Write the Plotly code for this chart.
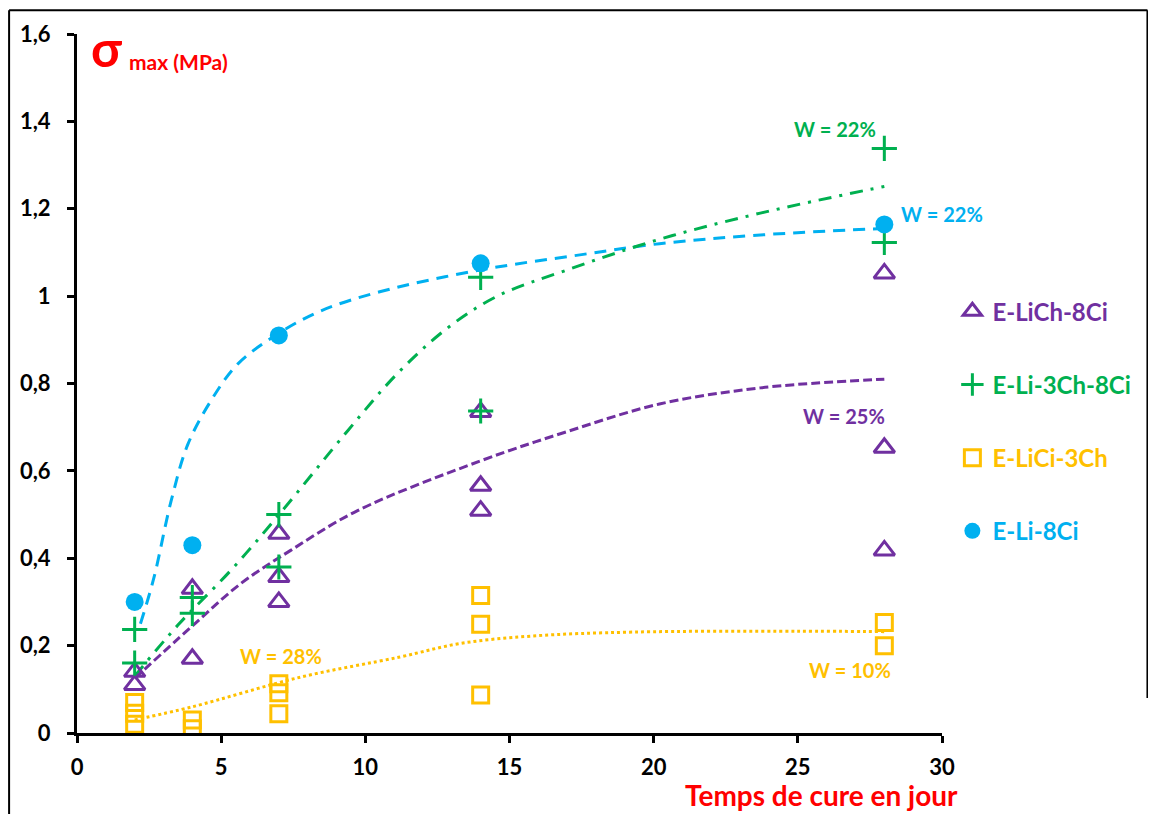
import plotly.graph_objects as go

# ---- data ----
days = [2, 4, 7, 14, 28]

# E-LiCh-8Ci (triangles)
lich_x = [2, 2, 4, 4, 7, 7, 7, 14, 14, 14, 28, 28, 28]
lich_y = [0.14, 0.11, 0.33, 0.17, 0.456, 0.357, 0.30, 0.735, 0.566, 0.509, 1.052, 0.653, 0.418]

# E-Li-3Ch-8Ci (plus)
li3ch_x = [2, 2, 4, 4, 7, 7, 14, 14, 28, 28]
li3ch_y = [0.237, 0.16, 0.31, 0.274, 0.50, 0.38, 1.043, 0.737, 1.338, 1.123]

# E-LiCi-3Ch (squares)
lici_x = [2, 2, 2, 4, 4, 7, 7, 7, 14, 14, 14, 28, 28]
lici_y = [0.07, 0.045, 0.02, 0.03, 0.01, 0.113, 0.092, 0.044, 0.315, 0.249, 0.087, 0.253, 0.20]

# E-Li-8Ci (circles)
li8_x = [2, 4, 7, 14, 28]
li8_y = [0.30, 0.43, 0.91, 1.075, 1.164]

# trend curves
tr_blue_x = [2.2, 2.67, 3.26, 3.84, 4.64, 5.58, 7.0, 8.45, 10.5, 14.0, 17.5, 20.2, 23.7, 28.0]
tr_blue_y = [0.25, 0.356, 0.53, 0.66, 0.76, 0.845, 0.915, 0.966, 1.01, 1.06, 1.095, 1.12, 1.14, 1.155]

tr_green_x = [2.0, 3.5, 5.33, 7.07, 9.39, 11.1, 12.85, 14.58, 17.0, 20.2, 23.7, 28.0]
tr_green_y = [0.13, 0.247, 0.372, 0.505, 0.692, 0.822, 0.927, 1.0, 1.06, 1.13, 1.19, 1.251]

tr_purple_x = [2.0, 3.95, 5.68, 7.41, 9.73, 14.0, 17.0, 20.2, 23.7, 28.0]
tr_purple_y = [0.125, 0.242, 0.342, 0.418, 0.509, 0.623, 0.69, 0.753, 0.79, 0.81]

tr_yellow_x = [2.0, 4.0, 7.76, 11.2, 13.3, 15.8, 19.3, 25.0, 28.0]
tr_yellow_y = [0.03, 0.06, 0.128, 0.174, 0.205, 0.222, 0.231, 0.233, 0.232]

x_ticks = [0, 5, 10, 15, 20, 25, 30]
y_ticks = [0, 0.2, 0.4, 0.6, 0.8, 1.0, 1.2, 1.4, 1.6]
y_ticktext = ["0", "0,2", "0,4", "0,6", "0,8", "1", "1,2", "1,4", "1,6"]

PURPLE = "#7030A0"
GREEN = "#00B050"
YELLOW = "#FFC000"
BLUE = "#00B0F0"
RED = "#FF0000"
FONT = "Lato"

fig = go.Figure()

# trend lines
fig.add_trace(go.Scatter(x=tr_blue_x, y=tr_blue_y, mode="lines", showlegend=False,
                         line=dict(color=BLUE, width=3, dash="12px,8px", shape="spline", smoothing=1.0),
                         hoverinfo="skip"))
fig.add_trace(go.Scatter(x=tr_green_x, y=tr_green_y, mode="lines", showlegend=False,
                         line=dict(color=GREEN, width=3, dash="13px,8px,3px,8px", shape="spline", smoothing=1.0),
                         hoverinfo="skip"))
fig.add_trace(go.Scatter(x=tr_purple_x, y=tr_purple_y, mode="lines", showlegend=False,
                         line=dict(color=PURPLE, width=3, dash="9px,4px", shape="spline", smoothing=1.0),
                         hoverinfo="skip"))
fig.add_trace(go.Scatter(x=tr_yellow_x, y=tr_yellow_y, mode="lines", showlegend=False,
                         line=dict(color=YELLOW, width=3, dash="3px,3px", shape="spline", smoothing=1.0),
                         hoverinfo="skip"))

# data series
fig.add_trace(go.Scatter(x=lich_x, y=lich_y, mode="markers", legendgroup="a",
                         name=f"<span style='color:{PURPLE}'>E-LiCh-8Ci</span>",
                         marker=dict(symbol="triangle-up-open", size=18, color=PURPLE,
                                     line=dict(width=3, color=PURPLE))))
fig.add_trace(go.Scatter(x=li3ch_x, y=li3ch_y, mode="markers", legendgroup="b",
                         name=f"<span style='color:{GREEN}'>E-Li-3Ch-8Ci</span>",
                         marker=dict(symbol="cross-thin", size=18, color=GREEN,
                                     line=dict(width=3, color=GREEN))))
fig.add_trace(go.Scatter(x=lici_x, y=lici_y, mode="markers", legendgroup="c",
                         name=f"<span style='color:{YELLOW}'>E-LiCi-3Ch</span>",
                         marker=dict(symbol="square-open", size=16, color=YELLOW,
                                     line=dict(width=3, color=YELLOW))))
fig.add_trace(go.Scatter(x=li8_x, y=li8_y, mode="markers", legendgroup="d",
                         name=f"<span style='color:{BLUE}'>E-Li-8Ci</span>",
                         marker=dict(symbol="circle", size=18, color=BLUE)))

annots = [
    dict(x=26.3, y=1.383, text="W = 22%", color=GREEN, xanchor="center"),
    dict(x=28.5, y=1.187, text="W = 22%", color=BLUE, xanchor="left"),
    dict(x=26.6, y=0.726, text="W = 25%", color=PURPLE, xanchor="center"),
    dict(x=7.07, y=0.176, text="W = 28%", color=YELLOW, xanchor="center"),
    dict(x=26.8, y=0.144, text="W = 10%", color=YELLOW, xanchor="center"),
]
for a in annots:
    fig.add_annotation(x=a["x"], y=a["y"], xref="x", yref="y", text=a["text"], showarrow=False,
                       xanchor=a["xanchor"], yanchor="middle",
                       font=dict(family=FONT, size=20, color=a["color"], weight="bold"))

# axis titles
fig.add_annotation(x=0.014, y=0.934, xref="paper", yref="paper", showarrow=False,
                   xanchor="left", yanchor="bottom",
                   text="<b>σ</b>", font=dict(family=FONT, size=50, color=RED))
fig.add_annotation(x=0.058, y=0.94, xref="paper", yref="paper", showarrow=False,
                   xanchor="left", yanchor="bottom",
                   text="<b>max (MPa)</b>", font=dict(family=FONT, size=21, color=RED))
fig.add_annotation(x=0.861, y=-0.088, xref="paper", yref="paper", showarrow=False,
                   xanchor="center", yanchor="middle",
                   text="<b>Temps de cure en jour</b>", font=dict(family=FONT, size=28, color=RED))

# outer frame lines
for (x0, y0, x1, y1) in [(-0.0785, -0.13, -0.0785, 1.034), (-0.0785, 1.034, 1.2375, 1.034),
                         (1.2375, 1.034, 1.2375, 0.05)]:
    fig.add_shape(type="line", xref="paper", yref="paper", x0=x0, y0=y0, x1=x1, y1=y1,
                  line=dict(color="black", width=2))

fig.update_layout(
    width=1148, height=806,
    margin=dict(l=68, r=214, t=24, b=81),
    paper_bgcolor="white", plot_bgcolor="white",
    font=dict(family=FONT, color="black"),
    legend=dict(x=1.012, y=0.635, xanchor="left", yanchor="top", tracegroupgap=39,
                font=dict(family=FONT, size=24, weight="bold"), bgcolor="rgba(0,0,0,0)",
                itemwidth=30),
    showlegend=True,
)
fig.update_xaxes(range=[0, 30], tickvals=x_ticks, ticktext=[str(v) for v in x_ticks],
                 showgrid=False, zeroline=False, showline=True, linecolor="black", linewidth=3,
                 ticks="outside", ticklen=7, tickwidth=3, tickcolor="black", ticklabelstandoff=6,
                 tickfont=dict(family=FONT, size=22, color="black", weight="bold"))
fig.update_yaxes(range=[0, 1.6], tickvals=y_ticks, ticktext=y_ticktext,
                 showgrid=False, zeroline=False, showline=True, linecolor="black", linewidth=3,
                 ticks="outside", ticklen=7, tickwidth=3, tickcolor="black", ticklabelstandoff=12,
                 tickfont=dict(family=FONT, size=22, color="black", weight="bold"))

fig.write_html("out.html")
